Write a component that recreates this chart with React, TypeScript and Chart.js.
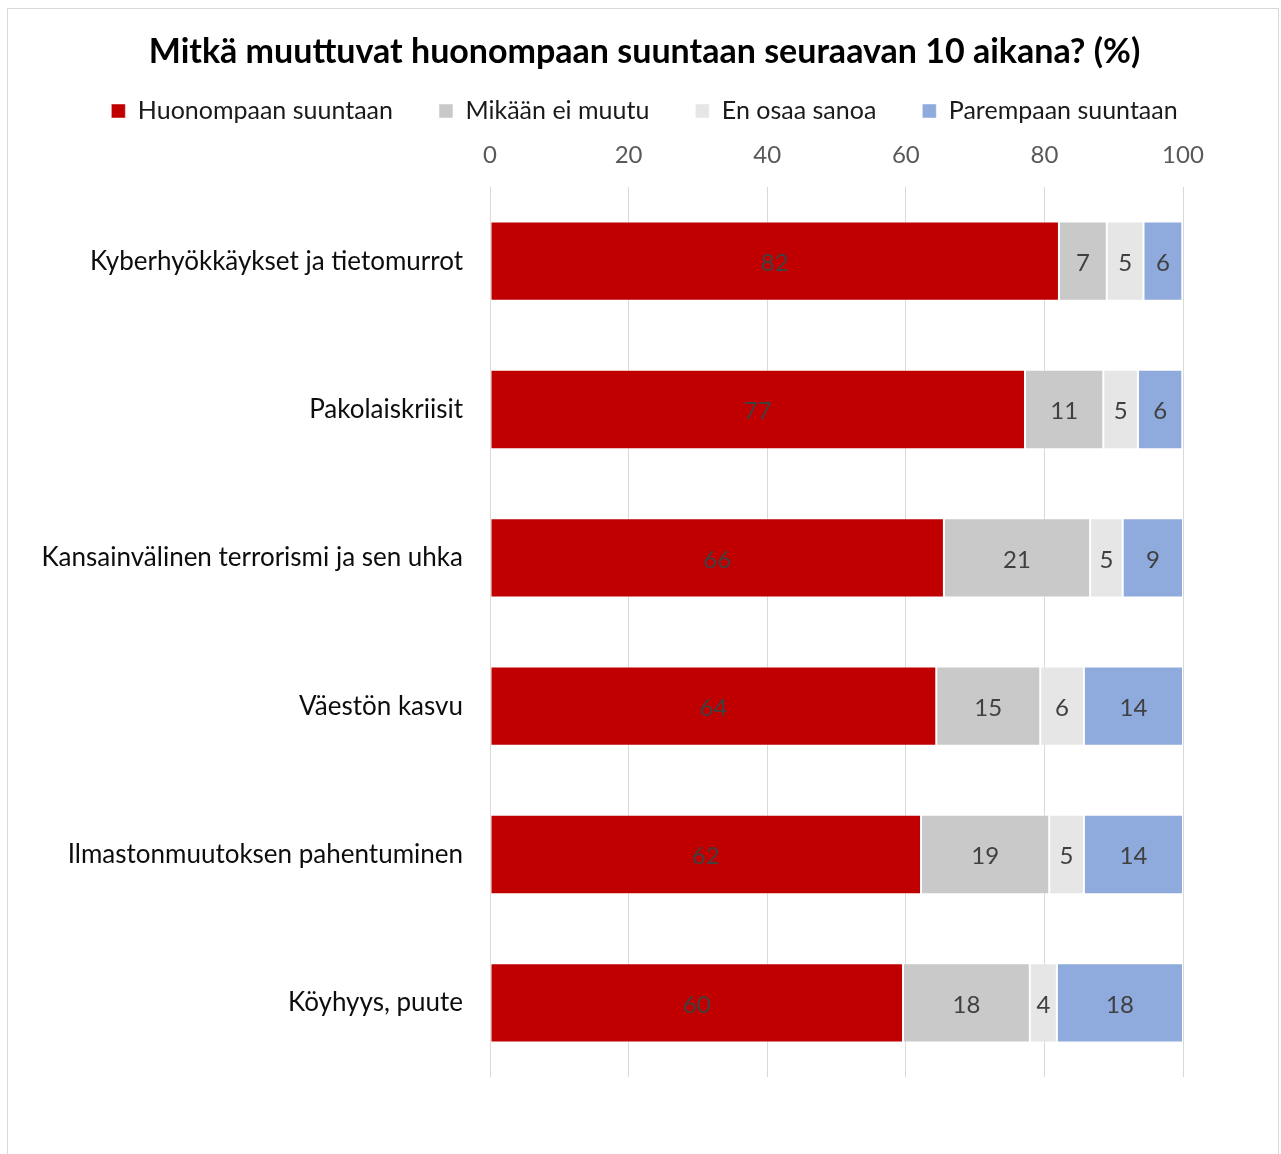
import React, { useEffect, useRef } from "react";
import { Chart, registerables } from "chart.js";

Chart.register(...registerables);

const FONT = "Lato, 'Noto Sans', sans-serif";

const TITLE = "Mitkä muuttuvat huonompaan suuntaan seuraavan 10 aikana? (%)";

const categories = [
  "Kyberhyökkäykset ja tietomurrot",
  "Pakolaiskriisit",
  "Kansainvälinen terrorismi ja sen uhka",
  "Väestön kasvu",
  "Ilmastonmuutoksen pahentuminen",
  "Köyhyys, puute",
];

const seriesNames = [
  "Huonompaan suuntaan",
  "Mikään ei muutu",
  "En osaa sanoa",
  "Parempaan suuntaan",
];

const huonompaan = [82.1, 77.2, 65.5, 64.4, 62.2, 59.6];
const mikaanEiMuutu = [6.9, 11.3, 21.1, 15.0, 18.5, 18.3];
const enOsaaSanoa = [5.3, 5.0, 4.7, 6.3, 5.0, 3.9];
const parempaan = [5.6, 6.4, 8.7, 14.3, 14.3, 18.2];

const seriesColors = ["#C00000", "#C9C9C9", "#E6E6E6", "#8FAADC"];

const xTicks = [0, 20, 40, 60, 80, 100];

const valueLabels = {
  id: "valueLabels",
  afterDatasetsDraw(chart: any) {
    const ctx = chart.ctx;
    ctx.save();
    ctx.font = `24px ${FONT}`;
    ctx.fillStyle = "#404040";
    ctx.textAlign = "center";
    ctx.textBaseline = "middle";
    chart.data.datasets.forEach((ds: any, i: number) => {
      const meta = chart.getDatasetMeta(i);
      meta.data.forEach((el: any, j: number) => {
        const p = el.getProps(["x", "y", "base"], true);
        ctx.fillText(String(Math.round(ds.data[j])), (p.x + p.base) / 2, p.y + 2);
      });
    });
    ctx.restore();
  },
};

export default function App() {
  const ref = useRef<HTMLCanvasElement>(null);

  useEffect(() => {
    const values = [huonompaan, mikaanEiMuutu, enOsaaSanoa, parempaan];
    const chart = new Chart(ref.current as HTMLCanvasElement, {
      type: "bar",
      data: {
        labels: categories,
        datasets: seriesNames.map((name, i) => ({
          label: name,
          data: values[i],
          backgroundColor: seriesColors[i],
          borderColor: "rgba(255,255,255,0.45)",
          borderWidth: 1,
          borderSkipped: false,
          categoryPercentage: 1,
          barPercentage: 0.535,
        })),
      },
      options: {
        indexAxis: "y",
        responsive: false,
        animation: false,
        layout: { padding: { left: 8, right: 0, top: 0, bottom: 77 } },
        plugins: {
          title: {
            display: true,
            text: TITLE,
            color: "#000000",
            font: { family: FONT, size: 34, weight: "bold" },
            padding: { top: 31.6, bottom: -19.9 },
          },
          legend: {
            position: "top",
            labels: {
              boxWidth: 14,
              boxHeight: 14,
              padding: 46,
              color: "#1a1a1a",
              font: { family: FONT, size: 25 },
            },
          },
          tooltip: { enabled: false },
        },
        scales: {
          x: {
            position: "top",
            stacked: true,
            min: 0,
            max: 100,
            afterBuildTicks: (s: any) => {
              s.ticks = xTicks.map((v) => ({ value: v }));
            },
            ticks: {
              color: "#595959",
              font: { family: FONT, size: 24 },
              padding: 17,
            },
            grid: { color: "#d9d9d9", lineWidth: 1, drawTicks: false },
            border: { display: false },
            afterFit: (s: any) => {
              s.height = 53.5;
            },
          },
          y: {
            stacked: true,
            grid: { display: false },
            border: { display: false },
            ticks: {
              color: "#0d0d0d",
              font: { family: FONT, size: 26 },
              padding: 19,
            },
            afterFit: (s: any) => {
              s.width = 482;
            },
          },
          yRight: {
            type: "category",
            position: "right",
            grid: { display: false },
            border: { display: false },
            ticks: { display: false },
            afterFit: (s: any) => {
              s.width = 98;
            },
          },
        },
      } as any,
      plugins: [valueLabels],
    });
    return () => chart.destroy();
  }, []);

  return (
    <div style={{ position: "absolute", left: 0, top: 0, width: 1281, height: 1154, background: "#fff" }}>
      <canvas ref={ref} width={1281} height={1154} style={{ width: 1281, height: 1154, display: "block" }} />
      <div
        style={{
          position: "absolute",
          left: 7,
          top: 8,
          width: 1270,
          height: 1160,
          border: "1px solid #d9d9d9",
          pointerEvents: "none",
        }}
      />
    </div>
  );
}
